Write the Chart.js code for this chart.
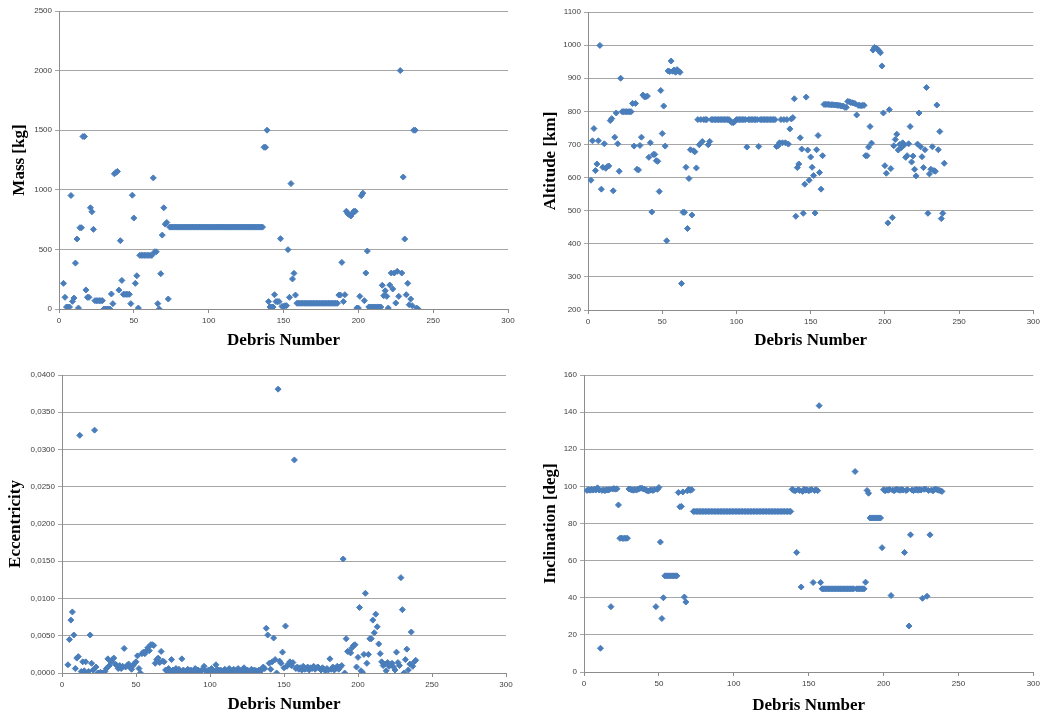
<!DOCTYPE html>
<html>
<head>
<meta charset="utf-8">
<title>Debris parameters</title>
<script src="https://cdn.jsdelivr.net/npm/chart.js@4.4.0/dist/chart.umd.min.js"></script>
<style>
  body { margin: 0; background: #fff; width: 1043px; height: 717px; position: relative; overflow: hidden; }
  .panel { position: absolute; }
</style>
</head>
<body>
<div class="panel" style="left:0;top:0"><canvas id="massChart" width="520" height="355"></canvas></div>
<div class="panel" style="left:528px;top:0"><canvas id="altChart" width="515" height="355"></canvas></div>
<div class="panel" style="left:0;top:360px"><canvas id="eccChart" width="520" height="357"></canvas></div>
<div class="panel" style="left:528px;top:360px"><canvas id="incChart" width="515" height="357"></canvas></div>
<script>
// values per debris number (first entry = debris 1), null = no point
const massKg = [
  null, null, 215, 98, 17, 17, 17, 952, 64, 92,
  385, 587, 8, 682, 682, 1447, 1447, 160, 98, 98,
  849, 816, 668, 70, 70, 70, 70, 70, 70, 0,
  0, 0, 0, 0, 126, 45, 1134, 1145, 1154, 159,
  573, 240, 123, 123, 123, 123, 123, 45, 955, 763,
  215, 279, 8, 450, 450, 450, 450, 450, 450, 450,
  450, 450, 1100, 480, 480, 45, 0, 296, 620, 849,
  712, 726, 84, 687, 687, 687, 687, 687, 687, 687,
  687, 687, 687, 687, 687, 687, 687, 687, 687, 687,
  687, 687, 687, 687, 687, 687, 687, 687, 687, 687,
  687, 687, 687, 687, 687, 687, 687, 687, 687, 687,
  687, 687, 687, 687, 687, 687, 687, 687, 687, 687,
  687, 687, 687, 687, 687, 687, 687, 687, 687, 687,
  687, 687, 687, 687, 687, 687, 1357, 1357, 1500, 62,
  17, 17, 17, 120, 62, 62, 62, 590, 22, 22,
  28, 28, 498, 98, 1052, 252, 299, 117, 48, 48,
  48, 48, 48, 48, 48, 48, 48, 48, 48, 48,
  48, 48, 48, 48, 48, 48, 48, 48, 48, 48,
  48, 48, 48, 48, 48, 48, 117, 117, 391, 62,
  120, 820, 800, 790, 780, 800, 820, 820, 8, 8,
  106, 950, 972, 70, 302, 486, 17, 17, 17, 17,
  17, 17, 17, 17, 17, 199, 112, 153, 106, 8,
  201, 302, 168, 302, 50, 316, 106, 2000, 302, 1107,
  587, 120, 215, 36, 84, 28, 1500, 1500, 8, 0
];

const altitudeKm = [
  null, 592, 711, 748, 621, 641, 711, 999, 565, 631,
  702, 628, 633, 635, 772, 778, 560, 722, 795, 702,
  619, 900, 799, 799, 799, 799, 799, 799, 799, 824,
  695, 824, 625, 623, 697, 722, 849, 844, 844, 846,
  661, 705, 496, 670, 670, 651, 649, 558, 863, 733,
  816, 695, 409, 922, 920, 952, 921, 925, 918, 926,
  921, 918, 280, 495, 495, 631, 446, 597, 684, 487,
  681, 678, 629, 775, 699, 775, 709, 775, 775, 775,
  699, 709, 775, 775, 775, 775, 775, 775, 775, 775,
  775, 775, 775, 775, 775, 770, 766, 766, 770, 775,
  775, 775, 775, 775, 775, 775, 692, 775, 775, 775,
  775, 775, 775, 775, 694, 775, 775, 775, 775, 775,
  775, 775, 775, 775, 775, 775, 694, 696, 705, 775,
  705, 775, 705, 775, 701, 747, 777, 781, 838, 483,
  630, 641, 720, 686, 492, 580, 843, 683, 592, 662,
  631, 606, 493, 684, 727, 615, 565, 666, 821, 821,
  821, 821, 820, 820, 820, 819, 819, 818, 818, 817,
  816, 816, 812, 812, 830, 829, 827, 826, 825, 823,
  789, 818, 818, 817, 818, 818, 666, 666, 692, 754,
  704, 985, 993, 991, 988, 983, 977, 937, 795, 636,
  613, 463, 805, 627, 479, 696, 715, 731, 683, 700,
  690, 705, 698, 661, 666, 702, 754, 647, 665, 625,
  605, 701, 795, 693, 663, 630, 684, 872, 492, 611,
  625, 693, 621, 619, 819, 684, 739, 476, 492, 643
];

const eccentricity = [
  null, null, null, 0.0011, 0.0045, 0.0071, 0.0082, 0.0051, 0.0006, 0.0020,
  0.0022, 0.0319, 0.0002, 0.0015, 0.0003, 0.0015, 0.0000, 0.0002, 0.0051, 0.0013,
  0.0004, 0.0326, 0.0008, 0.0000, 0.0000, 0.0001, 0.0000, 0.0000, 0.0002, 0.0006,
  0.0019, 0.0010, 0.0015, 0.0018, 0.0020, 0.0012, 0.0010, 0.0006, 0.0010, 0.0006,
  0.0009, 0.0033, 0.0008, 0.0010, 0.0012, 0.0008, 0.0005, 0.0010, 0.0013, 0.0015,
  0.0023, 0.0006, 0.0000, 0.0026, 0.0028, 0.0026, 0.0030, 0.0034, 0.0030, 0.0038,
  0.0038, 0.0037, 0.0013, 0.0018, 0.0020, 0.0014, 0.0029, 0.0016, 0.0015, 0.0004,
  0.0003, 0.0006, 0.0002, 0.0018, 0.0004, 0.0001, 0.0006, 0.0003, 0.0005, 0.0002,
  0.0019, 0.0004, 0.0001, 0.0003, 0.0005, 0.0002, 0.0004, 0.0001, 0.0003, 0.0006,
  0.0002, 0.0004, 0.0001, 0.0003, 0.0005, 0.0009, 0.0003, 0.0001, 0.0004, 0.0002,
  0.0006, 0.0003, 0.0001, 0.0011, 0.0005, 0.0002, 0.0004, 0.0003, 0.0001, 0.0005,
  0.0002, 0.0004, 0.0006, 0.0003, 0.0001, 0.0005, 0.0002, 0.0004, 0.0006, 0.0003,
  0.0001, 0.0005, 0.0007, 0.0002, 0.0004, 0.0003, 0.0001, 0.0005, 0.0002, 0.0004,
  0.0003, 0.0001, 0.0004, 0.0002, 0.0005, 0.0008, 0.0006, 0.0060, 0.0051, 0.0013,
  0.0005, 0.0015, 0.0047, 0.0018, 0.0000, 0.0381, 0.0016, 0.0013, 0.0028, 0.0007,
  0.0063, 0.0009, 0.0012, 0.0015, 0.0010, 0.0014, 0.0286, 0.0006, 0.0008, 0.0005,
  0.0007, 0.0004, 0.0009, 0.0005, 0.0006, 0.0008, 0.0004, 0.0007, 0.0006, 0.0009,
  0.0005, 0.0007, 0.0008, 0.0006, 0.0004, 0.0007, 0.0005, 0.0003, 0.0006, 0.0004,
  0.0019, 0.0005, 0.0008, 0.0004, 0.0006, 0.0009, 0.0005, 0.0008, 0.0010, 0.0153,
  0.0000, 0.0046, 0.0029, 0.0029, 0.0027, 0.0034, 0.0037, 0.0038, 0.0008, 0.0021,
  0.0088, 0.0003, 0.0001, 0.0025, 0.0107, 0.0013, 0.0025, 0.0046, 0.0046, 0.0071,
  0.0054, 0.0079, 0.0062, 0.0039, 0.0026, 0.0015, 0.0010, 0.0012, 0.0003, 0.0014,
  0.0009, 0.0011, 0.0013, 0.0008, 0.0004, 0.0028, 0.0014, 0.0010, 0.0128, 0.0085,
  0.0000, 0.0018, 0.0032, 0.0004, 0.0012, 0.0055, 0.0009, 0.0015, 0.0017
];

const inclinationDeg = [
  null, 97.8, 98.2, 97.9, 98.3, 98.0, 98.4, 98.1, 99.2, 98.0,
  12.8, 97.8, 98.1, 97.7, 98.2, 98.0, 98.3, 35.2, 98.6, 98.8,
  98.5, 98.7, 90.0, 72.0, 72.2, 71.9, 72.1, 72.0, 72.1, 98.6,
  98.4, 98.1, 97.9, 98.3, 98.0, 98.5, 98.8, 99.0, 98.9, 98.6,
  98.2, 97.8, 97.5, 97.9, 98.1, 97.8, 98.2, 35.2, 98.4, 99.4,
  70.0, 28.8, 40.0, 51.8, 51.8, 51.8, 51.8, 51.8, 51.8, 51.8,
  51.8, 51.8, 96.7, 89.0, 89.2, 97.0, 40.4, 37.7, 97.6, 98.4,
  97.9, 98.2, 86.5, 86.5, 86.5, 86.5, 86.5, 86.5, 86.5, 86.5,
  86.5, 86.5, 86.5, 86.5, 86.5, 86.5, 86.5, 86.5, 86.5, 86.5,
  86.5, 86.5, 86.5, 86.5, 86.5, 86.5, 86.5, 86.5, 86.5, 86.5,
  86.5, 86.5, 86.5, 86.5, 86.5, 86.5, 86.5, 86.5, 86.5, 86.5,
  86.5, 86.5, 86.5, 86.5, 86.5, 86.5, 86.5, 86.5, 86.5, 86.5,
  86.5, 86.5, 86.5, 86.5, 86.5, 86.5, 86.5, 86.5, 86.5, 86.5,
  86.5, 86.5, 86.5, 86.5, 86.5, 86.5, 86.5, 86.5, 98.4, 97.9,
  97.6, 64.4, 98.2, 97.8, 45.8, 97.3, 98.5, 97.9, 98.1, 97.6,
  98.0, 98.3, 48.2, 97.8, 98.2, 97.7, 143.5, 48.2, 44.8, 44.8,
  44.8, 44.8, 44.8, 44.8, 44.8, 44.8, 44.8, 44.8, 44.8, 44.8,
  44.8, 44.8, 44.8, 44.8, 44.8, 44.8, 44.8, 44.8, 44.8, 44.8,
  108.0, 44.8, 44.8, 44.8, 44.8, 44.8, 44.8, 48.4, 97.8, 96.3,
  83.0, 83.0, 83.0, 83.0, 83.0, 83.0, 83.0, 83.0, 67.0, 98.2,
  97.6, 98.1, 97.9, 98.3, 41.2, 98.0, 97.7, 98.2, 98.4, 98.1,
  97.9, 98.3, 98.0, 64.4, 97.8, 98.2, 24.8, 73.9, 98.0, 97.7,
  98.1, 98.3, 97.9, 98.2, 98.0, 39.7, 98.4, 98.6, 40.8, 97.8,
  73.9, 98.0, 97.6, 98.3, 98.5, 98.1, 97.9, 97.6, 97.3
];

const debrisTicks = { min: 0, max: 300, step: 50 };

const markerColor = '#4A7EBB';
const gridColor = '#a6a6a6';
const axisColor = '#8c8c8c';
const tickFont = { family: 'Liberation Sans', size: 8 };
const titleFont = { family: 'Liberation Serif', size: 17, weight: 'bold' };

function drawPanel(id, values, p) {
  const points = values.map((v, i) => ({ x: i + 1, y: v }));
  return new Chart(document.getElementById(id), {
    type: 'scatter',
    data: {
      datasets: [{
        data: points,
        pointStyle: 'rectRot',
        pointRadius: 3,
        pointHoverRadius: 3,
        borderWidth: 1,
        backgroundColor: markerColor,
        borderColor: markerColor
      }]
    },
    options: {
      responsive: false,
      animation: false,
      layout: { padding: { left: 0, top: p.padTop, right: p.padRight, bottom: 0 } },
      plugins: { legend: { display: false }, tooltip: { enabled: false } },
      scales: {
        x: {
          type: 'linear',
          min: debrisTicks.min,
          max: debrisTicks.max,
          ticks: { stepSize: debrisTicks.step, color: '#404040', font: tickFont, padding: 3, maxRotation: 0 },
          grid: { drawOnChartArea: false, tickLength: 4, color: axisColor },
          border: { color: axisColor },
          title: { display: true, text: 'Debris Number', color: '#000', font: titleFont, padding: { top: 0, bottom: p.xTitlePad } },
          afterFit: s => { s.height = p.xHeight; }
        },
        y: {
          min: p.min,
          max: p.max,
          ticks: { stepSize: p.step, color: '#404040', font: tickFont, padding: 3, callback: p.fmt },
          grid: { color: gridColor, tickLength: 4 },
          border: { color: axisColor },
          title: { display: true, text: p.title, color: '#000', font: titleFont, padding: { top: p.yTitlePad, bottom: 0 } },
          afterFit: s => { s.width = p.yWidth; }
        }
      }
    }
  });
}

drawPanel('massChart', massKg, {
  title: 'Mass [kg]', min: 0, max: 2500, step: 500, fmt: v => v,
  padTop: 11, padRight: 12, yWidth: 59, xHeight: 46, yTitlePad: 9, xTitlePad: 4
});
drawPanel('altChart', altitudeKm, {
  title: 'Altitude [km]', min: 200, max: 1100, step: 100, fmt: v => v,
  padTop: 12, padRight: 7, yWidth: 60, xHeight: 45, yTitlePad: 12, xTitlePad: 4
});
drawPanel('eccChart', eccentricity, {
  title: 'Eccentricity', min: 0, max: 0.04, step: 0.005, fmt: v => v.toFixed(4).replace('.', ','),
  padTop: 15, padRight: 14, yWidth: 62, xHeight: 44, yTitlePad: 5, xTitlePad: 2
});
drawPanel('incChart', inclinationDeg, {
  title: 'Inclination [deg]', min: 0, max: 160, step: 20, fmt: v => v,
  padTop: 15, padRight: 6, yWidth: 56, xHeight: 45, yTitlePad: 12, xTitlePad: 1
});
</script>
</body>
</html>
